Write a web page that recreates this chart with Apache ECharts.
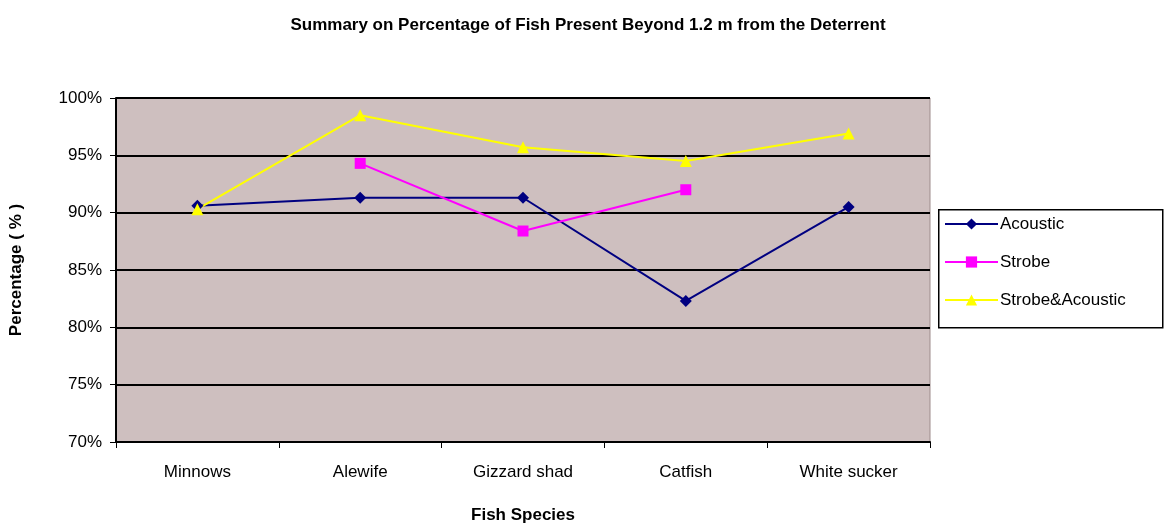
<!DOCTYPE html>
<html>
<head>
<meta charset="utf-8">
<script src="https://cdn.jsdelivr.net/npm/echarts@6/dist/echarts.min.js"></script>
<style>html,body{margin:0;padding:0;background:#fff}#c{width:1164px;height:527px}</style>
</head>
<body>
<div id="c"></div>
<script>
const categories = ['Minnows', 'Alewife', 'Gizzard shad', 'Catfish', 'White sucker'];
const acoustic = [90.6, 91.3, 91.3, 82.3, 90.5];
const strobe = ['-', 94.3, 88.4, 92.0, '-'];
const strobeAcoustic = [90.3, 98.5, 95.7, 94.5, 96.9];
const yTicks = { min: 70, max: 100, interval: 5 };

const chart = echarts.init(document.getElementById('c'));
const font = 'Liberation Sans, Arial, sans-serif';
chart.setOption({
  animation: false,
  title: {
    text: 'Summary on Percentage of Fish Present Beyond 1.2 m from the Deterrent',
    left: 583, top: 12, textAlign: 'center',
    textStyle: { fontFamily: font, fontSize: 17, fontWeight: 'bold', color: '#000' }
  },
  graphic: [{
    type: 'rect', left: 938, top: 209, z: 0,
    shape: { width: 224, height: 118 },
    style: { fill: '#fff', stroke: '#000', lineWidth: 1.5 }
  }],
  grid: {
    left: 116, right: 234, top: 98, bottom: 85, outerBoundsMode: 'none',
    show: true, backgroundColor: '#CEBFBF', borderColor: '#9e8c8c', borderWidth: 1
  },
  legend: {
    orient: 'vertical', left: 944, top: 215, z: 5,
    padding: 0, itemGap: 20, itemWidth: 53, itemHeight: 14,
    textStyle: { fontFamily: font, fontSize: 17, lineHeight: 18, color: '#000', padding: [0, 0, 0, -3] },
    data: ['Acoustic', 'Strobe', 'Strobe&Acoustic']
  },
  xAxis: {
    type: 'category', data: categories, boundaryGap: true,
    name: 'Fish Species', nameLocation: 'middle', nameGap: 65,
    nameTextStyle: { fontFamily: font, fontSize: 17, fontWeight: 'bold', color: '#000' },
    axisLine: { lineStyle: { color: '#000', width: 2 } },
    axisTick: { show: true, length: 6, lineStyle: { color: '#000' } },
    axisLabel: { fontFamily: font, fontSize: 17, color: '#000', margin: 22 }
  },
  yAxis: {
    type: 'value', min: yTicks.min, max: yTicks.max, interval: yTicks.interval,
    name: 'Percentage ( % )', nameLocation: 'middle', nameGap: 91,
    nameTextStyle: { fontFamily: font, fontSize: 17, fontWeight: 'bold', color: '#000' },
    axisLine: { show: true, lineStyle: { color: '#000', width: 2 } },
    axisTick: { show: true, length: 6, lineStyle: { color: '#000' } },
    axisLabel: { fontFamily: font, fontSize: 17, color: '#000', margin: 14, formatter: v => v + '%' },
    splitLine: { show: true, lineStyle: { color: '#000', width: 2 } }
  },
  series: [
    { name: 'Acoustic', type: 'line', data: acoustic, symbol: 'diamond', symbolSize: 12,
      lineStyle: { color: '#000080', width: 2 }, itemStyle: { color: '#000080' } },
    { name: 'Strobe', type: 'line', data: strobe, symbol: 'rect', symbolSize: 11,
      lineStyle: { color: '#FF00FF', width: 2 }, itemStyle: { color: '#FF00FF' } },
    { name: 'Strobe&Acoustic', type: 'line', data: strobeAcoustic, symbol: 'triangle', symbolSize: 12,
      lineStyle: { color: '#FFFF00', width: 2 }, itemStyle: { color: '#FFFF00' } }
  ]
});
</script>
</body>
</html>
